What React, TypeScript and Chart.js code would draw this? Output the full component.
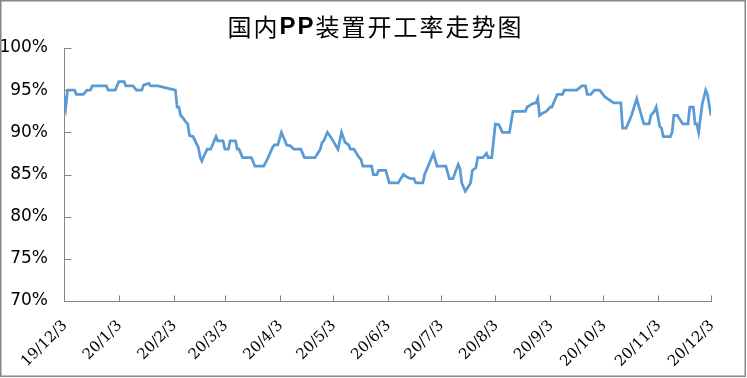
import { useEffect, useRef } from "react";
import { Chart, registerables } from "chart.js";

Chart.register(...registerables);

const TITLE = "国内PP装置开工率走势图";

// x tick positions: days since 2019-12-03
const X_TICK_DAYS = [0, 31, 62, 91, 122, 152, 183, 213, 244, 275, 305, 336, 366];
const X_TICK_LABELS = [
  "19/12/3", "20/1/3", "20/2/3", "20/3/3", "20/4/3", "20/5/3", "20/6/3",
  "20/7/3", "20/8/3", "20/9/3", "20/10/3", "20/11/3", "20/12/3",
];
const Y_MIN = 70;
const Y_MAX = 100;
const Y_STEP = 5;

// series: day offset since 2019-12-03 and utilisation rate (%)
const DAYS = [
  0, 1, 2, 6, 7, 11, 13, 15, 16, 24, 25, 29, 31, 34, 35, 39, 41, 44, 45, 48, 49, 53,
  63, 64, 65, 66, 67, 69, 70, 71, 73, 76, 77, 78, 79, 81, 83, 86, 87, 90, 91, 93, 94,
  97, 98, 99, 101, 106, 108, 113, 115, 118, 119, 121, 123, 126, 128, 130, 134, 136,
  142, 145, 146, 147, 149, 151, 155, 157, 159, 161, 162, 164, 167, 168, 169, 174, 175,
  177, 178, 182, 184, 189, 192, 194, 196, 198, 199, 203, 204, 209, 211, 216, 218, 220,
  223, 224, 225, 227, 230, 231, 233, 234, 237, 239, 240, 242, 244, 246, 248, 252, 254,
  261, 262, 265, 267, 268, 269, 271, 273, 275, 276, 279, 282, 283, 290, 293, 295, 296,
  298, 300, 303, 306, 311, 315, 316, 318, 321, 324, 325, 328, 331, 332, 334, 335, 337,
  338, 339, 343, 344, 345, 347, 350, 353, 354, 356, 357, 358, 359, 361, 363, 364, 366,
];
const RATES = [
  94.3, 93, 95, 95, 94.5, 94.5, 95, 95, 95.5, 95.5, 95, 95, 96, 96, 95.5, 95.5, 95, 95, 95.6, 95.8, 95.5, 95.5,
  95, 93, 93, 92, 91.8, 91.2, 91, 89.6, 89.5, 88.2, 87.1, 86.6, 87.1, 88, 88, 89.5, 89, 89, 88, 88, 89,
  89, 88, 88, 87, 87, 86, 86, 86.8, 88.2, 88.5, 88.5, 90, 88.5, 88.4, 88, 88, 87,
  87, 88, 88.8, 89, 90, 89.4, 88, 90, 88.8, 88.5, 88, 88, 87, 86.8, 86, 86, 85,
  85, 85.5, 85.5, 84, 84, 85, 84.7, 84.5, 84.5, 84, 84, 85, 87.5, 86, 86, 84.5, 84.5,
  86.2, 85.7, 84, 83, 84, 85.5, 85.8, 87, 87, 87.5, 87, 87, 91, 90.9, 90, 90, 92.5,
  92.5, 93, 93.4, 93.5, 94, 92, 92.3, 92.5, 93, 93, 94.5, 94.5, 95, 95, 95.5, 95.5, 94.5,
  94.5, 95, 95, 94.2, 93.5, 93.5, 90.5, 90.5, 92, 94, 93.2, 91, 91, 92, 92.5, 93, 90.7,
  90.5, 89.5, 89.5, 90, 92, 92, 91, 91, 93, 93, 91, 91, 90, 93.3, 95, 94.5, 92,
];

const AXIS_COLOR = "#868686";
const LINE_COLOR = "#5B9BD5";

export default function App() {
  const ref = useRef<HTMLCanvasElement>(null);

  useEffect(() => {
    const canvas = ref.current;
    if (!canvas) return;

    const frame = {
      id: "frame",
      beforeDraw(c: any) {
        const ctx = c.ctx;
        ctx.save();
        ctx.fillStyle = "#ffffff";
        ctx.fillRect(0, 0, c.width, c.height);
        ctx.restore();
      },
      afterDraw(c: any) {
        const ctx = c.ctx;
        ctx.save();
        // outer border
        ctx.strokeStyle = AXIS_COLOR;
        ctx.lineWidth = 1.5;
        ctx.strokeRect(0.75, 0.75, c.width - 2.5, c.height - 2.5);
        // inward tick marks
        const xs = c.scales.x;
        const ys = c.scales.y;
        ctx.strokeStyle = AXIS_COLOR;
        ctx.lineWidth = 1;
        ctx.beginPath();
        const bottom = Math.round(ys.bottom) + 0.5;
        const left = Math.round(xs.left) + 0.5;
        X_TICK_DAYS.forEach((d) => {
          const px = Math.round(xs.getPixelForValue(d)) + 0.5;
          ctx.moveTo(px, bottom);
          ctx.lineTo(px, bottom - 6);
        });
        for (let v = Y_MIN; v <= Y_MAX; v += Y_STEP) {
          const py = Math.round(ys.getPixelForValue(v)) + 0.5;
          ctx.moveTo(left, py);
          ctx.lineTo(left + 7, py);
        }
        ctx.stroke();
        // title: CJK regular, latin runs bold
        ctx.fillStyle = "#000000";
        ctx.textBaseline = "middle";
        ctx.textAlign = "left";
        try {
          (ctx as any).letterSpacing = "2px";
        } catch (e) {}
        const parts = TITLE.split(/([A-Za-z]+)/).filter((p) => p.length > 0);
        const fontFor = (p: string) =>
          /^[A-Za-z]+$/.test(p)
            ? 'bold 24px "Liberation Sans"'
            : 'normal 24px "Noto Sans CJK SC"';
        let total = 0;
        const widths = parts.map((p) => {
          ctx.font = fontFor(p);
          const w = ctx.measureText(p).width;
          total += w;
          return w;
        });
        let x = c.width / 2 - total / 2 + 2;
        parts.forEach((p, i) => {
          ctx.font = fontFor(p);
          ctx.fillText(p, x, 27);
          x += widths[i];
        });
        ctx.restore();
      },
    };

    const chart = new Chart(canvas, {
      type: "line",
      data: {
        datasets: [
          {
            label: "开工率",
            data: DAYS.map((d, i) => ({ x: d, y: RATES[i] })),
            borderColor: LINE_COLOR,
            backgroundColor: LINE_COLOR,
            borderWidth: 2.75,
            pointRadius: 0,
            tension: 0,
            fill: false,
          },
        ],
      },
      options: {
        animation: false,
        responsive: false,
        maintainAspectRatio: false,
        layout: { padding: { left: 0, right: 36, top: 48, bottom: 0 } },
        plugins: {
          legend: { display: false },
          title: { display: false },
          tooltip: { enabled: false },
        },
        scales: {
          x: {
            type: "linear",
            min: X_TICK_DAYS[0],
            max: X_TICK_DAYS[X_TICK_DAYS.length - 1],
            grid: { display: false, drawTicks: false },
            border: { display: true, color: AXIS_COLOR, width: 1 },
            afterBuildTicks: (s: any) => {
              s.ticks = X_TICK_DAYS.map((v) => ({ value: v }));
            },
            afterFit: (s: any) => {
              s.height = 77;
            },
            ticks: {
              autoSkip: false,
              maxRotation: 45,
              minRotation: 45,
              padding: 16,
              labelOffset: 1,
              color: "#000000",
              font: { family: "'DejaVu Serif', 'Liberation Serif', serif", size: 15 },
              callback: (v: any) => {
                const i = X_TICK_DAYS.indexOf(Number(v));
                return i >= 0 ? X_TICK_LABELS[i] : "";
              },
            },
          },
          y: {
            min: Y_MIN,
            max: Y_MAX,
            grid: { display: false, drawTicks: false },
            border: { display: true, color: AXIS_COLOR, width: 1 },
            afterFit: (s: any) => {
              s.width = 64;
            },
            ticks: {
              stepSize: Y_STEP,
              padding: 16,
              color: "#000000",
              font: { family: "'DejaVu Sans', sans-serif", size: 17 },
              callback: (v: any) => `${v}%`,
            },
          },
        },
      },
      plugins: [frame],
    });

    return () => chart.destroy();
  }, []);

  return (
    <div style={{ position: "absolute", left: 0, top: 0, width: 747, height: 378 }}>
      <canvas ref={ref} width={747} height={378} style={{ display: "block" }} />
    </div>
  );
}
